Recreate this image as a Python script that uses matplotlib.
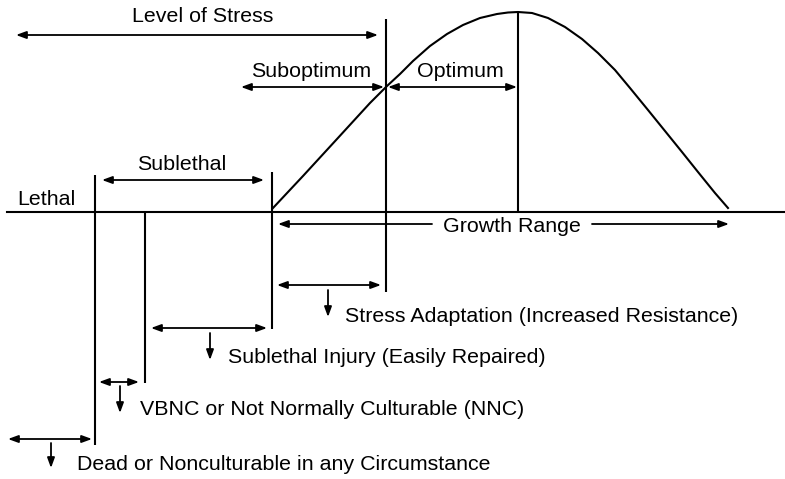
import matplotlib
matplotlib.use("Agg")
import matplotlib.pyplot as plt

plt.rcParams['font.family'] = ['Liberation Sans', 'DejaVu Sans']

# ---- data (pixel coordinates of the diagram, y downward) ----
curve_x = [273, 303, 337, 370, 387, 400, 413, 430, 447, 463, 480, 497, 508, 518,
           532, 548, 565, 582, 598, 615, 630, 648, 665, 682, 698, 715, 728]
curve_y = [208, 176, 139, 103, 86, 74, 61, 46, 34, 25, 18, 14, 12.5, 12,
           13, 18, 27, 39, 53, 70, 88, 110, 131, 152, 172, 193, 208]

baseline_y = 212
baseline_x = [7, 785]

vline_x = [95, 145, 272, 386, 518]
vline_top = [175, 212, 172, 19, 12]
vline_bottom = [445, 383, 329, 292, 212]

# double-headed arrows: (x_start, x_end, y)
arrow_x1 = [16, 241, 388, 102, 277, 151, 99, 8]
arrow_x2 = [378, 384, 517, 264, 381, 267, 139, 92]
arrow_y = [35, 87, 87, 180, 285, 328, 382, 439]

# centred labels above arrows
top_labels = ["Level of Stress", "Suboptimum", "Optimum", "Sublethal"]
top_label_x = [203, 311, 460, 182]
top_label_y = [22, 77, 77, 170]

# growth range arrow
growth_left = [278, 432]
growth_right = [592, 729]
growth_y = 224
growth_label = "Growth Range"
growth_label_x = 512

# down-arrow annotations
down_labels = ["Stress Adaptation (Increased Resistance)",
               "Sublethal Injury (Easily Repaired)",
               "VBNC or Not Normally Culturable (NNC)",
               "Dead or Nonculturable in any Circumstance"]
down_x = [328, 210, 120, 51]
down_top = [290, 333, 386, 443]
down_tip = [317, 360, 413, 468]
down_text_x = [345, 228, 140, 77]
down_text_y = [322, 363, 415, 470]

FS = 15.4
LW = 1.5
ALW = 1.3

fig = plt.figure(figsize=(7.85, 4.79), dpi=100)
ax = fig.add_axes([0, 0, 1, 1])
ax.set_xlim(0, 785)
ax.set_ylim(479, 0)
ax.axis('off')

# curve
ax.plot(curve_x, curve_y, color='black', lw=LW, solid_joinstyle='round')
# baseline
ax.plot(baseline_x, [baseline_y, baseline_y], color='black', lw=LW)
# vertical lines
ax.vlines(vline_x, vline_top, vline_bottom, color='black', lw=LW)

def harrow(x1, x2, y, style='<|-|>'):
    ax.annotate('', xy=(x2, y), xytext=(x1, y),
                arrowprops=dict(arrowstyle=style + ',head_length=0.6,head_width=0.22',
                                lw=ALW, color='black', shrinkA=0, shrinkB=0,
                                mutation_scale=10))

for x1, x2, y in zip(arrow_x1, arrow_x2, arrow_y):
    harrow(x1, x2, y)

for t, x, y in zip(top_labels, top_label_x, top_label_y):
    ax.text(x, y, t, ha='center', va='baseline', fontsize=FS)

ax.text(17, 205, "Lethal", ha='left', va='baseline', fontsize=FS)

# growth range
harrow(growth_left[1], growth_left[0], growth_y, style='-|>')
harrow(growth_right[0], growth_right[1], growth_y, style='-|>')
ax.text(growth_label_x, 232, growth_label, ha='center', va='baseline', fontsize=FS)

# down arrows with labels
for t, x, yt, yb, tx, ty in zip(down_labels, down_x, down_top, down_tip, down_text_x, down_text_y):
    ax.annotate('', xy=(x, yb), xytext=(x, yt),
                arrowprops=dict(arrowstyle='-|>,head_length=0.6,head_width=0.22',
                                lw=ALW, color='black', shrinkA=0, shrinkB=0,
                                mutation_scale=10))
    ax.text(tx, ty, t, ha='left', va='baseline', fontsize=FS)

fig.savefig('out.png', dpi=100, facecolor='white')
